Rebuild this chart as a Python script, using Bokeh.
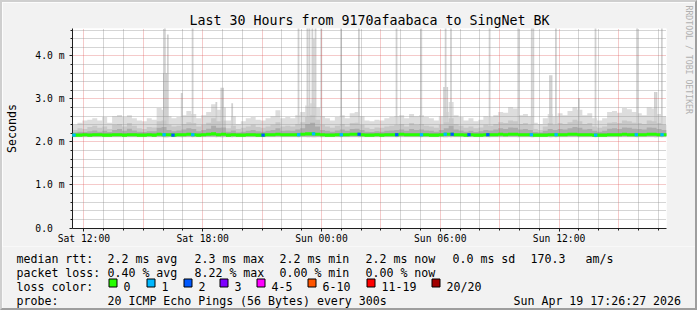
import numpy as np
from bokeh.plotting import figure
from bokeh.layouts import column
from bokeh.models import Range1d, FixedTicker, Title
from bokeh.core.properties import value
from bokeh.embed import file_html
from bokeh.resources import INLINE

# ---------------- data (time in hours since Sat 00:00, values in ms) -------------
col_start = 11.425         # first 15-minute column
col_width = 0.25

smoke_max = [2.40,2.45,2.50,2.52,2.55,2.50,2.58,2.45,2.60,2.63,
             2.58,2.62,2.55,2.50,2.48,2.55,2.52,2.79,2.75,2.60,
             2.55,2.58,2.62,2.72,2.65,2.55,2.62,2.70,2.88,2.75,
             2.80,2.50,2.60,2.42,2.48,2.55,2.58,2.52,2.50,2.55,
             2.60,2.74,2.55,2.58,2.55,2.62,2.70,2.85,2.90,2.80,
             2.60,2.55,2.50,2.58,2.62,2.55,2.67,2.70,2.60,2.50,
             2.48,2.52,2.50,2.55,2.58,2.60,2.62,2.55,2.65,2.60,
             2.62,2.58,2.55,2.50,2.60,2.70,2.93,2.62,2.58,2.50,
             2.55,2.48,2.52,2.60,2.58,2.62,2.70,2.68,2.81,2.78,
             2.62,2.65,2.60,2.45,2.42,2.55,2.65,2.60,2.67,2.62,
             2.72,2.81,2.75,2.62,2.67,2.55,2.50,2.55,2.70,2.72,
             2.68,2.79,2.76,2.70,2.67,2.62,2.80,2.78,2.65,2.60]

smoke_q80 = [2.28,2.32,2.30,2.35,2.38,2.33,2.36,2.30,2.40,2.42,
             2.36,2.44,2.38,2.32,2.30,2.35,2.34,2.48,2.50,2.40,
             2.36,2.38,2.42,2.46,2.44,2.36,2.40,2.45,2.55,2.48,
             2.50,2.32,2.38,2.30,2.33,2.36,2.40,2.35,2.33,2.36,
             2.40,2.46,2.36,2.38,2.36,2.42,2.46,2.58,2.62,2.52,
             2.40,2.36,2.33,2.38,2.42,2.36,2.44,2.45,2.40,2.33,
             2.30,2.34,2.33,2.36,2.38,2.40,2.42,2.36,2.44,2.40,
             2.42,2.38,2.36,2.33,2.40,2.46,2.55,2.42,2.38,2.33,
             2.36,2.32,2.34,2.40,2.38,2.42,2.46,2.44,2.50,2.48,
             2.42,2.44,2.40,2.30,2.28,2.36,2.44,2.40,2.44,2.42,
             2.46,2.52,2.48,2.42,2.44,2.36,2.33,2.36,2.45,2.46,
             2.44,2.50,2.48,2.45,2.44,2.42,2.50,2.48,2.44,2.40]

smoke_q65 = [2.22,2.24,2.23,2.25,2.27,2.24,2.26,2.23,2.28,2.30,
             2.26,2.31,2.27,2.24,2.23,2.25,2.25,2.33,2.35,2.28,
             2.25,2.27,2.29,2.32,2.30,2.25,2.28,2.31,2.38,2.33,
             2.34,2.24,2.27,2.22,2.24,2.26,2.28,2.25,2.24,2.26,
             2.28,2.32,2.26,2.27,2.26,2.29,2.32,2.42,2.45,2.36,
             2.28,2.26,2.24,2.27,2.29,2.26,2.30,2.31,2.28,2.24,
             2.23,2.25,2.24,2.26,2.27,2.28,2.29,2.26,2.30,2.28,
             2.29,2.27,2.26,2.24,2.28,2.32,2.38,2.29,2.27,2.24,
             2.26,2.23,2.25,2.28,2.27,2.29,2.32,2.30,2.34,2.33,
             2.29,2.30,2.28,2.23,2.22,2.26,2.30,2.28,2.30,2.29,
             2.32,2.35,2.33,2.29,2.30,2.26,2.24,2.26,2.31,2.32,
             2.30,2.34,2.33,2.31,2.30,2.29,2.34,2.33,2.30,2.28]

smoke_floor = 2.11

median_rtt = [2.16,2.16,2.17,2.16,2.17,2.17,2.16,2.16,2.17,2.17,
              2.16,2.17,2.17,2.16,2.16,2.17,2.16,2.18,2.17,2.17,
              2.16,2.17,2.17,2.18,2.17,2.16,2.17,2.18,2.19,2.17,
              2.18,2.16,2.17,2.16,2.16,2.17,2.17,2.16,2.16,2.17,
              2.17,2.18,2.17,2.17,2.17,2.17,2.18,2.19,2.19,2.18,
              2.17,2.16,2.16,2.17,2.17,2.17,2.18,2.18,2.17,2.16,
              2.16,2.17,2.16,2.17,2.17,2.17,2.18,2.17,2.17,2.17,
              2.17,2.17,2.16,2.16,2.17,2.18,2.18,2.17,2.17,2.16,
              2.17,2.16,2.16,2.17,2.17,2.17,2.18,2.17,2.18,2.18,
              2.17,2.17,2.17,2.16,2.16,2.16,2.17,2.17,2.17,2.17,
              2.18,2.18,2.17,2.17,2.17,2.16,2.16,2.16,2.17,2.17,
              2.17,2.18,2.17,2.17,2.17,2.17,2.18,2.18,2.17,2.17]

# single 5-minute ping spikes (max rtt)
spike_t = [16.04, 16.09, 16.14, 16.19, 16.24, 16.94, 17.49, 18.69, 18.94, 19.03,
           19.49, 22.84, 23.29, 23.39, 23.54, 23.62, 23.70, 23.99, 24.99, 25.89,
           27.79, 29.04, 30.19, 30.27, 30.35, 30.54, 32.49, 33.94, 34.62, 34.70,
           35.54, 35.62, 35.84, 37.00, 37.84, 39.94, 40.84, 40.92, 41.19]
spike_v = [3.60, 4.80, 3.60, 3.60, 4.50, 3.14, 4.80, 2.93, 3.26, 3.26,
           2.90, 4.80, 4.80, 4.80, 4.80, 4.40, 4.80, 4.80, 4.80, 4.80,
           4.80, 4.80, 3.28, 4.80, 3.28, 4.80, 4.80, 4.80, 4.80, 4.80,
           3.55, 3.55, 4.80, 3.02, 4.80, 4.80, 3.16, 3.16, 4.80]

# packet loss events (pings lost out of 20)
loss_t = [11.50, 16.05, 16.50, 17.50, 21.05, 22.85, 23.60, 25.00, 25.90, 27.80,
          29.05, 30.25, 30.60, 31.45, 32.40, 34.60, 35.85, 37.85, 39.90, 41.20]
loss_n = [1, 1, 2, 1, 2, 1, 1, 1, 2, 2,
          1, 1, 2, 2, 2, 1, 1, 1, 1, 1]

x_tick_pos = [12, 18, 24, 30, 36]
x_tick_labels = ["Sat 12:00", "Sat 18:00", "Sun 00:00", "Sun 06:00", "Sun 12:00"]
y_tick_pos = [0, 1, 2, 3, 4]
y_tick_labels = ["0.0\u00a0\u00a0", "1.0 m", "2.0 m", "3.0 m", "4.0 m"]

loss_legend_labels = ["0", "1", "2", "3", "4-5", "6-10", "11-19", "20/20"]
loss_legend_colors = ["#26ff00", "#00b8ff", "#0059ff", "#7e00ff", "#ff00ff", "#ff5500", "#ff0000", "#a10000"]
loss_color_by_count = {0: "#26ff00", 1: "#00b8ff", 2: "#0059ff"}

title_text = "Last 30 Hours from 9170afaabaca to SingNet BK"
watermark_text = "RRDTOOL / TOBI OETIKER"
row_rtt = ["median rtt:", "2.2 ms avg", "2.3 ms max", "2.2 ms min", "2.2 ms now", "0.0 ms sd", "170.3", "am/s"]
row_loss = ["packet loss:", "0.40 % avg", "8.22 % max", "0.00 % min", "0.00 % now"]
row_color = "loss color:"
row_probe = ["probe:", "20 ICMP Echo Pings (56 Bytes) every 300s", "Sun Apr 19 17:26:27 2026"]

MONO = "DejaVu Sans Mono"

# ---------------- main graph --------------------------------------------------------
# ranges are offset by half a pixel so that 1px grid lines fall on pixel centres
p = figure(width=693, height=244, output_backend="svg", toolbar_location=None,
           x_range=Range1d(11.425, 41.425), y_range=Range1d(-0.0116, 4.6394),
           min_border_left=65, min_border_right=28, min_border_top=26, min_border_bottom=18,
           background_fill_color="#ffffff", border_fill_color="#f2f2f2",
           outline_line_color=None)
p.frame_align = False

n = len(smoke_max)
left = col_start + col_width * np.arange(n)
xs = np.column_stack([left, left + col_width]).ravel()
def rep(a):
    return np.repeat(np.asarray(a, dtype=float), 2)

floor = np.full(2 * n, smoke_floor)
p.varea(x=xs, y1=floor, y2=rep(smoke_max), fill_color="#dddddd", level="underlay")
st = np.asarray(spike_t)
p.quad(left=st - 0.045, right=st + 0.045, bottom=smoke_floor, top=spike_v,
       fill_color="#d0d0d0", line_color=None, level="underlay")
p.varea(x=xs, y1=floor + 0.01, y2=rep(smoke_q80), fill_color="#c8c8c8", level="underlay")
p.varea(x=xs, y1=floor + 0.02, y2=rep(smoke_q65), fill_color="#acacac", level="underlay")

med = rep(median_rtt)
p.varea(x=xs, y1=med - 0.036, y2=med + 0.036, fill_color="#26ff00", level="annotation")
lt = np.asarray(loss_t)
idx = np.clip(((lt - col_start) // col_width).astype(int), 0, n - 1)
lm = np.asarray(median_rtt)[idx]
p.quad(left=lt - 0.085, right=lt + 0.085, bottom=lm - 0.036, top=lm + 0.036,
       fill_color=[loss_color_by_count[k] for k in loss_n], line_color=None, level="annotation")

# grids
x_major_grid = list(range(12, 42, 3))
x_minor_grid = [h for h in range(12, 42) if h % 3 != 0]
y_major_grid = [1, 2, 3, 4]
y_minor_grid = [round(0.2 * k, 1) for k in range(1, 24) if k % 5 != 0]
for g, maj, mnr in ((p.xgrid, x_major_grid, x_minor_grid), (p.ygrid, y_major_grid, y_minor_grid)):
    g.ticker = FixedTicker(ticks=maj, minor_ticks=mnr)
    g.grid_line_color = "#de4f4f"
    g.grid_line_alpha = 0.6
    g.grid_line_dash = "1 1"
    g.minor_grid_line_color = "#8f8f8f"
    g.minor_grid_line_alpha = 0.75
    g.minor_grid_line_dash = "1 1"
    g.level = "glyph"

# axes
p.xaxis.ticker = FixedTicker(ticks=x_tick_pos, minor_ticks=list(range(12, 42)))
p.xaxis.major_label_overrides = dict(zip(x_tick_pos, x_tick_labels))
p.yaxis.ticker = FixedTicker(ticks=y_tick_pos, minor_ticks=y_minor_grid)
p.yaxis.major_label_overrides = dict(zip(y_tick_pos, y_tick_labels))
for ax in (p.xaxis, p.yaxis):
    ax.axis_line_color = "#1f1f1f"
    ax.major_tick_line_color = "#1f1f1f"
    ax.minor_tick_line_color = "#1f1f1f"
    ax.major_tick_in = 0
    ax.minor_tick_in = 0
    ax.major_tick_out = 3
    ax.minor_tick_out = 2
    ax.major_label_text_font = MONO
    ax.major_label_text_font_size = "9.7px"
    ax.major_label_text_color = "#000000"
p.xaxis.major_label_standoff = 1
p.yaxis.major_label_standoff = 5
p.yaxis.axis_label = "Seconds"
p.yaxis.axis_label_text_font = MONO
p.yaxis.axis_label_text_font_size = "11.6px"
p.yaxis.axis_label_text_font_style = "normal"
p.yaxis.axis_label_text_color = "#000000"
p.yaxis.axis_label_standoff = 13

# title (above) and watermark (right side, reading downwards)
p.title.text = title_text
p.title.align = "center"
p.title.offset = -18.5
p.title.standoff = 2
p.title.text_font = MONO
p.title.text_font_size = "13.3px"
p.title.text_font_style = "normal"
p.title.text_color = "#000000"

spacer = Title(text=" ", text_font=MONO, text_font_size="12.5px", standoff=0)
p.add_layout(spacer, "right")
wm = Title(text=watermark_text, align="left", offset=-23, vertical_align="bottom", standoff=0,
           text_font=MONO, text_font_size="8.2px", text_font_style="normal", text_color="#b0b0b0")
p.add_layout(wm, "right")

# ---------------- legend strip (pixel coordinates of the image) --------------------
lg = figure(width=693, height=62, output_backend="svg", toolbar_location=None,
            x_range=Range1d(2, 695), y_range=Range1d(308, 246),
            x_axis_type=None, y_axis_type=None, min_border=0,
            background_fill_color="#f2f2f2", border_fill_color="#f2f2f2",
            outline_line_color=None)
lg.frame_align = False
lg.grid.visible = False

def row_text(xs_, y, texts):
    lg.text(x=xs_, y=[y] * len(texts), text=texts, text_font=value(MONO),
            text_font_size=value("11.6px"), text_color="#000000",
            text_align="left", text_baseline="alphabetic")

row_text([16, 107, 194, 279, 365, 452, 530, 585], 258, row_rtt)
row_text([16, 107, 194, 279, 365], 272, row_loss)
box_x = [108, 146, 183, 219, 256, 307, 366, 431]
row_text([16] + [b + 15 for b in box_x], 286, [row_color] + loss_legend_labels)
lg.quad(left=[b + 0.5 for b in box_x], right=[b + 8.5 for b in box_x],
        top=[278.5] * len(box_x), bottom=[286.5] * len(box_x),
        fill_color=loss_legend_colors, line_color="#000000", line_width=1)
row_text([16, 107, 513], 300, row_probe)

layout = column(p, lg, spacing=0)
layout.styles = {"border-style": "solid", "border-width": "2px",
                 "border-color": "#cfcfcf #9e9e9e #9e9e9e #cfcfcf",
                 "box-sizing": "content-box"}

open("out.html", "w").write(file_html(layout, INLINE))
